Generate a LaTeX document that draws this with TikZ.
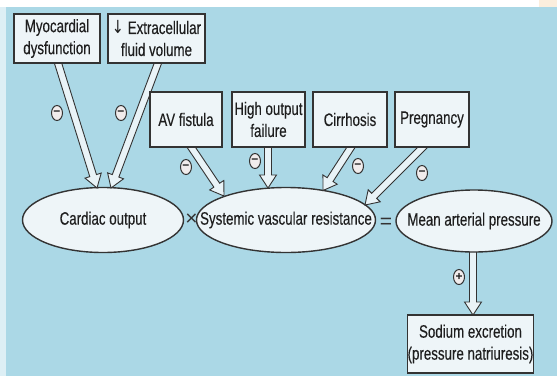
\documentclass[tikz,border=0pt]{standalone}
\usepackage{fontspec}
\setmainfont{Liberation Sans}[FakeStretch=0.74,FakeBold=0.25]
\newfontfamily\opfont{Liberation Sans}
\newfontfamily\arrfont{DejaVu Sans}[FakeStretch=0.8]
\usetikzlibrary{calc,shapes.geometric}
\definecolor{bg}{HTML}{ABD8E6}
\definecolor{boxfill}{HTML}{EEF5F8}
\definecolor{arrfill}{HTML}{E9F3F7}
\definecolor{edge}{HTML}{333333}
\definecolor{txt}{HTML}{1E1E1E}
\definecolor{signfill}{HTML}{F1ECEC}
\definecolor{peach}{HTML}{FBEEDD}
\newcommand\fatarrow[2]{%
  \coordinate (tmpC) at ($(#2)!13pt!(#1)$);
  \draw[arr] ($(#1)!3.5pt!90:(#2)$) -- ($(tmpC)!3.5pt!90:(#2)$) -- ($(tmpC)!8.5pt!90:(#2)$)
    -- (#2) -- ($(tmpC)!8.5pt!-90:(#2)$) -- ($(tmpC)!3.5pt!-90:(#2)$) -- ($(#1)!3.5pt!-90:(#2)$) -- cycle;}
\begin{document}
\begin{tikzpicture}[x=1pt,y=-1pt,
  font=\fontsize{18}{22}\selectfont,
  box/.style={draw=edge, fill=boxfill, line width=1.2pt, inner sep=0pt, align=center, text=txt},
  oval/.style={ellipse, draw=edge, fill=boxfill, line width=1.4pt, inner sep=0pt, text=txt},
  arr/.style={draw=edge, fill=arrfill, line width=0.9pt, line join=miter},
  sign/.style={ellipse, draw=edge, fill=signfill, line width=1pt, minimum width=11pt, minimum height=15pt, inner sep=0pt, font=\opfont\fontsize{12}{12}\selectfont\bfseries, text=txt},
  op/.style={inner sep=0pt, text=edge, font=\opfont\fontsize{21}{21}\selectfont}]
\useasboundingbox (0,0) rectangle (557,376);
\fill[bg] (0,0) rectangle (557,376);
\fill[white] (0,0) rectangle (557,6.5);
\fill[white!60!bg] (0,6.5) rectangle (5.5,376);
\fill[peach] (539,0) rectangle (557,6.5);

% arrow from MAP to sodium (drawn under the ellipse)
\coordinate (m0) at (473,240);
\coordinate (m1) at (473,315);
\fatarrow{m0}{m1}

% ellipses
\node[oval, minimum width=161pt, minimum height=65pt] (co) at (103,220) {\makebox[0pt]{Cardiac output}};
\node[oval, minimum width=179pt, minimum height=65pt] (svr) at (286,220) {\makebox[0pt]{Systemic vascular resistance}};
\node[oval, minimum width=156pt, minimum height=62pt] (map) at (474,221) {\makebox[0pt]{Mean arterial pressure}};
\node[op] (times) at (191.5,220) {×};
\node[op] (eq) at (386,223) {=};

% arrow coordinates
\coordinate (a1s) at (55.5,55);  \coordinate (a1e) at (97,188);
\coordinate (a2s) at (161,55);   \coordinate (a2e) at (111,188);
\coordinate (a3s) at (185,138);  \coordinate (a3e) at (224,196);
\coordinate (a4s) at (268,138);  \coordinate (a4e) at (268,188);
\coordinate (a5s) at (357,138);  \coordinate (a5e) at (323,190.5);
\coordinate (a6s) at (432,138);  \coordinate (a6e) at (365,205);
\fatarrow{a1s}{a1e}
\fatarrow{a2s}{a2e}
\fatarrow{a3s}{a3e}
\fatarrow{a4s}{a4e}
\fatarrow{a5s}{a5e}
\fatarrow{a6s}{a6e}

% boxes
\node[box, minimum width=86pt, minimum height=49pt] (myo) at (57,38.5) {Myocardial\\dysfunction};
\node[box, minimum width=97pt, minimum height=49pt] (ecf) at (156.5,38.5) {{\arrfont ↓} Extracellular\\fluid volume};
\node[box, minimum width=72pt, minimum height=55pt] (av) at (186,119.5) {AV fistula};
\node[box, minimum width=73pt, minimum height=55pt] (hof) at (268.5,119.5) {High output\\failure};
\node[box, minimum width=74pt, minimum height=55pt] (cir) at (350,119.5) {Cirrhosis};
\node[box, minimum width=74pt, minimum height=55pt] (pre) at (432,119.5) {Pregnancy};
\node[box, minimum width=125pt, minimum height=58pt] (na) at (470.5,344) {Sodium excretion\\(pressure natriuresis)};

% signs
\node[sign] (s1) at (57,113) {−};
\node[sign] (s2) at (121,113) {−};
\node[sign] (s3) at (186,167) {−};
\node[sign] (s4) at (255,161) {−};
\node[sign] (s5) at (358,166) {−};
\node[sign] (s6) at (422,173) {−};
\node[sign] (s7) at (459,277) {+};
\end{tikzpicture}
\end{document}
